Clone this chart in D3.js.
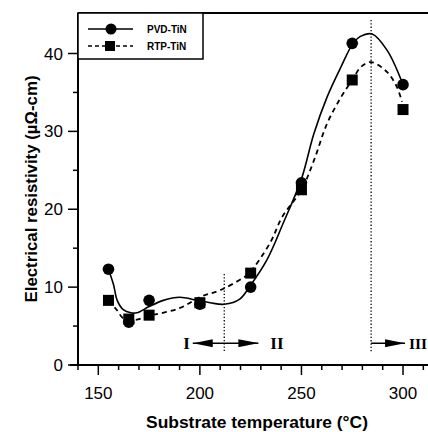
<!DOCTYPE html>
<html lang="en">
<head>
<meta charset="utf-8">
<script src="https://d3js.org/d3.v7.min.js"></script>
<style>
  body { margin: 0; background: #fff; }
  svg { display: block; font-family: "Liberation Sans", Arial, sans-serif; }
</style>
</head>
<body>
<svg width="428" height="432"></svg>
<script>
// measured points
var temps = [155, 165, 175, 200, 225, 250, 275, 300];
var pvd = [12.3, 5.5, 8.3, 7.8, 10.0, 23.4, 41.3, 36.0];
var rtp = [8.3, 5.9, 6.4, 8.0, 11.8, 22.5, 36.6, 32.8];

// fitted curves
var pvdFitT = [155, 157.5, 159.3, 162.3, 166, 169, 175, 182, 190, 198.7, 205, 212, 219.8, 224.3, 233, 241, 250, 256, 262.6, 269.5, 275.4, 279, 284.8, 292.2, 300];
var pvdFitV = [12.3, 10.3, 8.3, 7.1, 6.7, 6.7, 7.5, 8.3, 8.7, 8.3, 8.0, 7.8, 8.5, 10.0, 13.5, 18.2, 23.9, 29.6, 34.4, 38.3, 41.3, 42.2, 42.5, 40.4, 36.0];
var rtpFitT = [155, 159.3, 162.3, 168.2, 175, 190, 200.8, 210, 221.3, 224.3, 234.6, 240.5, 250, 256.2, 262.6, 269.5, 275, 279.4, 284.3, 292.2, 297, 299.5];
var rtpFitV = [8.3, 7.0, 6.0, 5.8, 6.3, 7.3, 8.8, 9.6, 11.2, 11.8, 15.7, 19.0, 22.5, 26.3, 31.0, 34.4, 36.6, 38.3, 38.9, 37.6, 35.7, 33.8];

var xTicks = [150, 200, 250, 300];
var yTicks = [0, 10, 20, 30, 40];
var regionBounds = [212, 284.3];
var regionLabels = ["I", "II", "III"];
var legendNames = ["PVD-TiN", "RTP-TiN"];

var svg = d3.select("svg");

var x = d3.scaleLinear().domain([140, 312.3]).range([78, 428]);
var y = d3.scaleLinear().domain([0, 45.2]).range([365, 13]);

svg.append("defs").append("marker")
    .attr("id", "head")
    .attr("viewBox", "0 0 20 8")
    .attr("refX", 20).attr("refY", 4)
    .attr("markerWidth", 20).attr("markerHeight", 8)
    .attr("markerUnits", "userSpaceOnUse")
    .attr("orient", "auto-start-reverse")
  .append("path")
    .attr("d", "M0,0 L20,4 L0,8 Z")
    .attr("fill", "#000");

// frame: top line
svg.append("line")
    .attr("x1", x(140)).attr("x2", 428)
    .attr("y1", y(45.2)).attr("y2", y(45.2))
    .attr("stroke", "#000").attr("stroke-width", 2);

// x axis
var xAxis = svg.append("g").attr("transform", "translate(0," + y(0) + ")");
xAxis.append("line").attr("x1", 70).attr("x2", 428).attr("stroke", "#000").attr("stroke-width", 2);
xAxis.selectAll(".minor").data(d3.range(140, 312, 10))
  .enter().append("line")
    .attr("x1", d => x(d)).attr("x2", d => x(d))
    .attr("y1", 0).attr("y2", d => d % 50 === 0 ? 10 : 5)
    .attr("stroke", "#000").attr("stroke-width", 1.5);
xAxis.selectAll("text").data(xTicks)
  .enter().append("text")
    .attr("x", d => x(d)).attr("y", 34)
    .attr("text-anchor", "middle")
    .attr("font-size", 17)
    .text(d => d);

// y axis
var yAxis = svg.append("g").attr("transform", "translate(" + x(140) + ",0)");
yAxis.append("line").attr("y1", y(45.2)).attr("y2", y(0) + 1).attr("stroke", "#000").attr("stroke-width", 2);
yAxis.selectAll(".tk").data(d3.range(0, 45, 5))
  .enter().append("line")
    .attr("y1", d => y(d)).attr("y2", d => y(d))
    .attr("x1", d => d % 10 === 0 ? -10 : -5).attr("x2", 0)
    .attr("stroke", "#000").attr("stroke-width", 1.5);
yAxis.selectAll("text").data(yTicks)
  .enter().append("text")
    .attr("x", -15).attr("y", d => y(d))
    .attr("dy", "0.36em")
    .attr("text-anchor", "end")
    .attr("font-size", 17)
    .text(d => d);

// axis titles
svg.append("text")
    .attr("x", 257).attr("y", 428)
    .attr("text-anchor", "middle")
    .attr("font-size", 16.5).attr("font-weight", "bold")
    .attr("textLength", 222).attr("lengthAdjust", "spacingAndGlyphs")
    .text("Substrate temperature (\u00B0C)");
svg.append("text")
    .attr("transform", "translate(37,189) rotate(-90)")
    .attr("text-anchor", "middle")
    .attr("font-size", 16.5).attr("font-weight", "bold")
    .attr("textLength", 227).attr("lengthAdjust", "spacingAndGlyphs")
    .text("Electrical resistivity (\u00B5\u03A9-cm)");

// region dividers
svg.append("line")
    .attr("x1", x(regionBounds[0])).attr("x2", x(regionBounds[0]))
    .attr("y1", y(11.7)).attr("y2", y(1.8))
    .attr("stroke", "#000").attr("stroke-width", 1.3).attr("stroke-dasharray", "1.3,2");
svg.append("line")
    .attr("x1", x(regionBounds[1])).attr("x2", x(regionBounds[1]))
    .attr("y1", y(44.3)).attr("y2", y(1.5))
    .attr("stroke", "#000").attr("stroke-width", 1.3).attr("stroke-dasharray", "1.3,2");

// arrows
var ay = y(2.8);
svg.append("line")
    .attr("x1", x(196.5)).attr("x2", x(228.8))
    .attr("y1", ay).attr("y2", ay)
    .attr("stroke", "#000").attr("stroke-width", 1.5)
    .attr("marker-start", "url(#head)").attr("marker-end", "url(#head)");
svg.append("line")
    .attr("x1", x(regionBounds[1])).attr("x2", x(301))
    .attr("y1", ay).attr("y2", ay)
    .attr("stroke", "#000").attr("stroke-width", 1.5)
    .attr("marker-end", "url(#head)");
var labelT = [191.8, 234.7, 302.9];
svg.selectAll(".rl").data(labelT)
  .enter().append("text")
    .attr("x", d => x(d)).attr("y", ay + 6)
    .attr("text-anchor", "start")
    .attr("font-family", "'Liberation Serif', serif")
    .attr("font-weight", "bold")
    .attr("font-size", (d, i) => i === 2 ? 15.5 : 17)
    .text((d, i) => regionLabels[i]);

// curves
var line = d3.line().curve(d3.curveCatmullRom.alpha(0.5))
    .x(d => x(d[0])).y(d => y(d[1]));
svg.append("path")
    .attr("d", line(pvdFitT.map((t, i) => [t, pvdFitV[i]])))
    .attr("fill", "none").attr("stroke", "#000").attr("stroke-width", 1.6);
svg.append("path")
    .attr("d", line(rtpFitT.map((t, i) => [t, rtpFitV[i]])))
    .attr("fill", "none").attr("stroke", "#000").attr("stroke-width", 1.8)
    .attr("stroke-dasharray", "5,4");

// markers
svg.selectAll(".sq").data(temps)
  .enter().append("rect")
    .attr("x", (d, i) => x(d) - 5.5).attr("y", (d, i) => y(rtp[i]) - 5.5)
    .attr("width", 11).attr("height", 11)
    .attr("fill", "#000");
svg.selectAll(".ci").data(temps)
  .enter().append("circle")
    .attr("cx", d => x(d)).attr("cy", (d, i) => y(pvd[i]))
    .attr("r", 5.8)
    .attr("fill", "#000");

// legend
var lg = svg.append("g");
lg.append("rect")
    .attr("x", x(140)).attr("y", y(45.2))
    .attr("width", 203 - x(140)).attr("height", 46)
    .attr("fill", "#fff").attr("stroke", "#000").attr("stroke-width", 1.5);
legendNames.forEach(function(name, i) {
  var ly = 29 + i * 17;
  lg.append("line")
      .attr("x1", 88).attr("x2", 133).attr("y1", ly).attr("y2", ly)
      .attr("stroke", "#000").attr("stroke-width", 1.6)
      .attr("stroke-dasharray", i ? "4,3" : null);
  if (i === 0) {
    lg.append("circle").attr("cx", 111).attr("cy", ly).attr("r", 5.5).attr("fill", "#000");
  } else {
    lg.append("rect").attr("x", 105).attr("y", ly - 5).attr("width", 10).attr("height", 10).attr("fill", "#000");
  }
  lg.append("text")
      .attr("x", 147).attr("y", ly + 3.5)
      .attr("font-size", 10).attr("font-weight", "bold")
      .text(name);
});
</script>
</body>
</html>
